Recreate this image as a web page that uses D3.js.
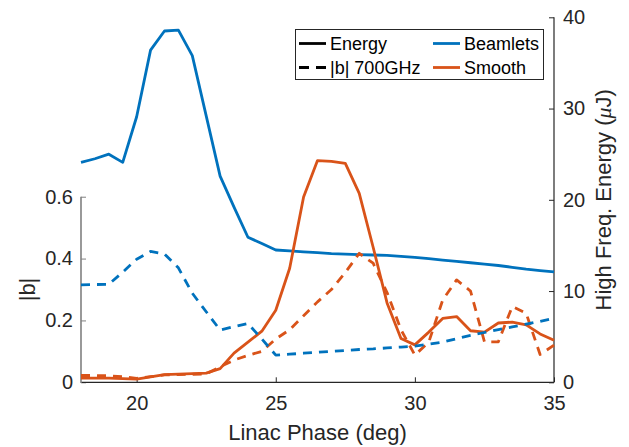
<!DOCTYPE html>
<html>
<head>
<meta charset="utf-8">
<script src="https://cdn.jsdelivr.net/npm/d3@7"></script>
<style>
  html, body { margin: 0; padding: 0; background: #fff; }
  svg { display: block; font-family: "Liberation Sans", Arial, Helvetica, sans-serif; }
</style>
</head>
<body>
<svg id="chart" width="629" height="447"></svg>
<script>
// Linac phase scan (deg), sampled every half degree
const phase = [18, 18.5, 19, 19.5, 20, 20.5, 21, 21.5, 22, 22.5, 23, 23.5, 24, 24.5,
  25, 25.5, 26, 26.5, 27, 27.5, 28, 28.5, 29, 29.5, 30, 30.5, 31, 31.5, 32, 32.5,
  33, 33.5, 34, 34.5, 35];

// High-frequency energy (uJ), right axis
const energyBeamlets = [24.1, 24.5, 25.0, 24.1, 29.1, 36.4, 38.5, 38.6, 35.8, 29.2,
  22.6, 19.2, 15.9, 15.2, 14.5, 14.4, 14.3, 14.2, 14.1, 14.05, 14.0, 13.95, 13.9,
  13.8, 13.7, 13.55, 13.4, 13.25, 13.1, 12.95, 12.8, 12.6, 12.4, 12.25, 12.1];
const energySmooth = [0.45, 0.45, 0.45, 0.4, 0.35, 0.6, 0.85, 0.9, 0.95, 1.0, 1.5,
  3.2, 4.4, 5.6, 7.9, 12.5, 20.3, 24.3, 24.2, 24.0, 20.7, 14.8, 8.7, 4.8, 4.1, 5.5,
  7.0, 7.2, 5.65, 5.5, 6.5, 6.6, 6.3, 5.3, 4.6];

// Bunching factor |b| at 700 GHz, left axis
const bunchBeamlets = [0.315, 0.316, 0.317, 0.356, 0.398, 0.423, 0.415, 0.37, 0.288,
  0.228, 0.169, 0.18, 0.19, 0.14, 0.088, 0.091, 0.094, 0.097, 0.1, 0.103, 0.106,
  0.108, 0.111, 0.114, 0.117, 0.123, 0.13, 0.141, 0.152, 0.161, 0.17, 0.179, 0.188,
  0.197, 0.207];
const bunchSmooth = [0.022, 0.022, 0.021, 0.018, 0.013, 0.018, 0.024, 0.025, 0.026,
  0.027, 0.05, 0.072, 0.087, 0.1, 0.14, 0.17, 0.215, 0.26, 0.3, 0.355, 0.417, 0.385,
  0.29, 0.17, 0.088, 0.13, 0.266, 0.331, 0.295, 0.131, 0.131, 0.245, 0.223, 0.09,
  0.12];

const xTicks = [20, 25, 30, 35];
const leftTicks = [0, 0.2, 0.4, 0.6];
const rightTicks = [0, 10, 20, 30, 40];

const BLUE = "#0072BD", ORANGE = "#D95319", INK = "#262626";

const svg = d3.select("#chart");
const m = { left: 81, right: 554, top: 17.3, bottom: 382.3 };

const x = d3.scaleLinear().domain([18, 35]).range([m.left, m.right]);
const yR = d3.scaleLinear().domain([0, 40]).range([m.bottom, m.top]);
const yL = d3.scaleLinear().domain([0, 1.18]).range([m.bottom, m.top]);

// Axes
const fontTick = 20;
const gx = svg.append("g").attr("transform", `translate(0,${m.bottom})`)
  .call(d3.axisBottom(x).tickValues(xTicks).tickSizeInner(-5).tickSizeOuter(0).tickPadding(14));
const gl = svg.append("g").attr("transform", `translate(${m.left},0)`)
  .call(d3.axisLeft(yL).tickValues(leftTicks).tickFormat(d3.format("~g"))
    .tickSizeInner(-5).tickSizeOuter(0).tickPadding(8));
const gr = svg.append("g").attr("transform", `translate(${m.right},0)`)
  .call(d3.axisRight(yR).tickValues(rightTicks).tickSizeInner(-5).tickSizeOuter(0).tickPadding(9));

[gx, gl, gr].forEach(g => {
  g.selectAll("text").attr("font-size", fontTick).attr("fill", INK)
    .attr("font-family", "Liberation Sans, Arial, sans-serif");
  g.select(".domain").remove();
});
gx.selectAll(".tick line").attr("stroke", INK);
gr.selectAll(".tick line").attr("stroke", INK);
gl.selectAll(".tick line").attr("stroke", "#808080");

// axis spines
svg.append("line").attr("x1", m.left).attr("x2", m.right)
  .attr("y1", m.bottom).attr("y2", m.bottom).attr("stroke", INK).attr("stroke-width", 1.2);
svg.append("line").attr("x1", m.right).attr("x2", m.right)
  .attr("y1", yR(40)).attr("y2", yR(0)).attr("stroke", INK).attr("stroke-width", 1.2);
svg.append("line").attr("x1", m.left).attr("x2", m.left)
  .attr("y1", yL(0.6)).attr("y2", yL(0) + 0.6).attr("stroke", "#808080").attr("stroke-width", 1.6);

// Axis titles
svg.append("text").attr("x", (m.left + m.right) / 2).attr("y", 440)
  .attr("text-anchor", "middle").attr("font-size", 22).attr("fill", INK)
  .text("Linac Phase (deg)");
svg.append("text").attr("transform", `translate(35,${yL(0.3)}) rotate(-90)`)
  .attr("text-anchor", "middle").attr("font-size", 22).attr("fill", INK)
  .text("|b|");
const rt = svg.append("text").attr("transform", `translate(611,${yR(20)}) rotate(-90)`)
  .attr("text-anchor", "middle").attr("font-size", 22).attr("fill", INK);
rt.append("tspan").text("High Freq. Energy (");
rt.append("tspan").attr("font-style", "italic").attr("font-family", "Liberation Serif, serif").text("\u03BC");
rt.append("tspan").text("J)");

// Lines
const lineR = d3.line().x((d, i) => x(phase[i])).y(d => yR(d));
const lineL = d3.line().x((d, i) => x(phase[i])).y(d => yL(d));
const plot = svg.append("g").attr("fill", "none").attr("stroke-width", 2.8)
  .attr("stroke-linejoin", "round");

plot.append("path").datum(energyBeamlets).attr("d", lineR).attr("stroke", BLUE);
plot.append("path").datum(energySmooth).attr("d", lineR).attr("stroke", ORANGE);
plot.append("path").datum(bunchSmooth).attr("d", lineL).attr("stroke", ORANGE)
  .attr("stroke-dasharray", "9,7");
plot.append("path").datum(bunchBeamlets).attr("d", lineL).attr("stroke", BLUE)
  .attr("stroke-dasharray", "9,7");

// Legend
const lg = svg.append("g");
lg.append("rect").attr("x", 295.5).attr("y", 29.5).attr("width", 248).attr("height", 50)
  .attr("fill", "#fff").attr("stroke", INK).attr("stroke-width", 1);
const entries = [
  { label: "Energy", color: "#000", dash: null, col: 0, row: 0 },
  { label: "|b| 700GHz", color: "#000", dash: "10,7", col: 0, row: 1 },
  { label: "Beamlets", color: BLUE, dash: null, col: 1, row: 0 },
  { label: "Smooth", color: ORANGE, dash: null, col: 1, row: 1 }
];
const colX = [299, 433];
const rowY = [43.5, 67.5];
entries.forEach(e => {
  const x0 = colX[e.col], y0 = rowY[e.row];
  lg.append("line").attr("x1", x0).attr("x2", x0 + 27).attr("y1", y0).attr("y2", y0)
    .attr("stroke", e.color).attr("stroke-width", 2.8)
    .attr("stroke-dasharray", e.dash);
  lg.append("text").attr("x", x0 + 31).attr("y", y0).attr("dy", "0.35em")
    .attr("font-size", 18).attr("fill", "#000").text(e.label);
});
</script>
</body>
</html>
